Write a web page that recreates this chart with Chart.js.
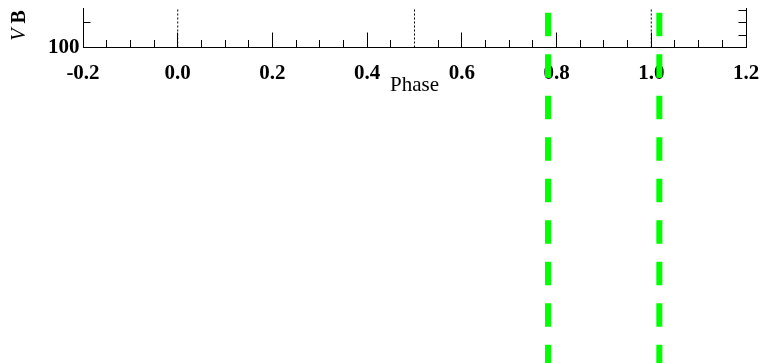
<!DOCTYPE html>
<html>
<head>
<meta charset="utf-8">
<script src="https://cdn.jsdelivr.net/npm/chart.js@4.4.1/dist/chart.umd.min.js"></script>
<style>
  html, body { margin: 0; padding: 0; background: #fff; }
  #wrap { width: 762px; height: 363px; }
</style>
</head>
<body>
<div id="wrap"><canvas id="chart"></canvas></div>
<script>
// axis ranges and ticks
const phaseMin = -0.2;
const phaseMax = 1.2;
const majorTicks = [-0.2, 0.0, 0.2, 0.4, 0.6, 0.8, 1.0, 1.2];
const minorTicks = [-0.15, -0.1, -0.05, 0.05, 0.1, 0.15, 0.25, 0.3, 0.35,
  0.45, 0.55, 0.65, 0.7, 0.75, 0.85, 0.9, 0.95, 1.05, 1.1, 1.15];
const yMin = 100;
const yMax = 132;
const yTicks = [100, 110, 120, 130];
const yTickLabels = ['100', '', '', ''];

// reference phases (dotted) and marked phases (green dashed)
const refPhases = [0.0, 0.5, 1.0];
const markerPhases = [0.782, 1.017];

const xTitle = 'Phase';
const yTitleParts = ['V', 'B'];

const serif = "'Liberation Serif', 'Times New Roman', serif";

const refDatasets = refPhases.map(p => ({
  data: [{ x: p, y: yMin }, { x: p, y: yMax }],
  borderColor: '#000',
  borderWidth: 1,
  borderDash: [2, 2],
  pointRadius: 0,
  xAxisID: 'x',
  yAxisID: 'y'
}));

// fixed box sizes, no label overhang padding
const fixSize = (w, h) => s => {
  if (w !== null) s.width = w;
  if (h !== null) s.height = h;
  s.paddingLeft = s.paddingRight = s.paddingTop = s.paddingBottom = 0;
};

const markerPlugin = {
  id: 'markers',
  afterDraw(chart) {
    const { ctx, chartArea, scales } = chart;
    ctx.save();
    ctx.strokeStyle = '#00ff00';
    ctx.lineWidth = 6;
    ctx.setLineDash([23.5, 18]);
    markerPhases.forEach(p => {
      const x = scales.x.getPixelForValue(p);
      ctx.beginPath();
      ctx.moveTo(x, chartArea.top + 4.7);
      ctx.lineTo(x, chart.height);
      ctx.stroke();
    });
    ctx.restore();
  }
};

// y title: italic V, bold B, rotated
const yTitlePlugin = {
  id: 'ytitle',
  afterDraw(chart) {
    const { ctx } = chart;
    ctx.save();
    ctx.translate(20, 25.5);
    ctx.rotate(-Math.PI / 2);
    ctx.fillStyle = '#000';
    ctx.textBaseline = 'middle';
    ctx.textAlign = 'left';
    const f1 = 'italic 20px ' + serif;
    const f2 = 'bold 20px ' + serif;
    ctx.font = f1;
    const w1 = ctx.measureText(yTitleParts[0] + ' ').width;
    ctx.font = f2;
    const w2 = ctx.measureText(yTitleParts[1]).width;
    const x = -(w1 + w2) / 2;
    ctx.font = f1;
    ctx.fillText(yTitleParts[0] + ' ', x, 0);
    ctx.font = f2;
    ctx.fillText(yTitleParts[1], x + w1, 0);
    ctx.restore();
  }
};

new Chart(document.getElementById('chart'), {
  type: 'line',
  data: { datasets: refDatasets },
  options: {
    responsive: true,
    maintainAspectRatio: false,
    devicePixelRatio: 1,
    animation: false,
    layout: { padding: { top: 8, left: 0, right: 0, bottom: 261 } },
    plugins: { legend: { display: false }, tooltip: { enabled: false } },
    scales: {
      x: {
        type: 'linear',
        position: 'bottom',
        min: phaseMin,
        max: phaseMax,
        weight: 0,
        afterBuildTicks: s => { s.ticks = minorTicks.map(v => ({ value: v })); },
        afterFit: fixSize(null, 0),
        ticks: { display: false },
        grid: { drawOnChartArea: false, tickLength: -7.5, color: '#000', lineWidth: 1 },
        border: { display: true, color: '#000', width: 1 }
      },
      xMajor: {
        type: 'linear',
        position: 'bottom',
        min: phaseMin,
        max: phaseMax,
        weight: 1,
        afterBuildTicks: s => { s.ticks = majorTicks.map(v => ({ value: v })); },
        afterFit: fixSize(null, 54.5),
        ticks: {
          autoSkip: false,
          maxRotation: 0,
          padding: 28,
          color: '#000',
          font: { family: serif, size: 21, weight: 'bold' },
          callback: v => v.toFixed(1)
        },
        grid: { drawOnChartArea: false, tickLength: -15, color: '#000', lineWidth: 1 },
        border: { display: false },
        title: {
          display: true,
          text: xTitle,
          color: '#000',
          font: { family: serif, size: 21 },
          padding: { top: 0, bottom: 4 }
        }
      },
      y: {
        position: 'left',
        min: yMin,
        max: yMax,
        afterBuildTicks: s => { s.ticks = yTicks.map(v => ({ value: v })); },
        afterFit: fixSize(83, null),
        ticks: {
          padding: 11,
          color: '#000',
          font: { family: serif, size: 21, weight: 'bold' },
          callback: (v, i) => yTickLabels[i]
        },
        grid: { drawOnChartArea: false, tickLength: -7.5, color: '#000', lineWidth: 1 },
        border: { display: true, color: '#000', width: 1 }
      },
      y2: {
        position: 'right',
        min: yMin,
        max: yMax,
        afterBuildTicks: s => { s.ticks = yTicks.map(v => ({ value: v })); },
        afterFit: fixSize(16, null),
        ticks: { display: false },
        grid: { drawOnChartArea: false, tickLength: -7.5, color: '#000', lineWidth: 1 },
        border: { display: true, color: '#000', width: 1 }
      }
    }
  },
  plugins: [markerPlugin, yTitlePlugin]
});
</script>
</body>
</html>
